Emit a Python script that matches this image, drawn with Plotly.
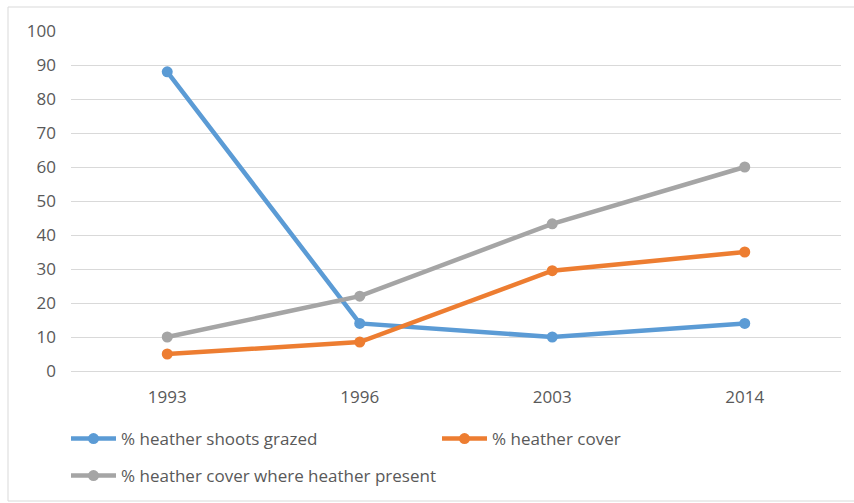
import plotly.graph_objects as go

years = ["1993", "1996", "2003", "2014"]
shoots_grazed = [88, 14, 10, 14]
heather_cover = [5, 8.5, 29.5, 35]
cover_where_present = [10, 22, 43.3, 60]

series = [
    ("% heather shoots grazed", shoots_grazed, "#5B9BD5", "legend"),
    ("% heather cover", heather_cover, "#ED7D31", "legend"),
    ("% heather cover where heather present", cover_where_present, "#A5A5A5", "legend2"),
]

W, H = 854, 503
ML, MR, MT, MB = 71, 13, 31, 132
PW, PH = W - ML - MR, H - MT - MB

fig = go.Figure()
for name, vals, color, leg in series:
    fig.add_trace(go.Scatter(
        x=years, y=vals, name=name, mode="lines+markers",
        line=dict(color=color, width=4.5),
        marker=dict(color=color, size=11),
        legend=leg,
    ))

def px_x(p):
    return (p - ML) / PW

def px_y(p):
    return (H - MB - p) / PH

# light chart-area border
fig.add_shape(type="rect", xref="paper", yref="paper",
              x0=px_x(8), x1=px_x(870), y0=px_y(501), y1=px_y(7),
              line=dict(color="#D9D9D9", width=1), fillcolor="rgba(0,0,0,0)",
              layer="below")

legend_style = dict(
    orientation="h", xanchor="left", yanchor="top",
    entrywidth=311, entrywidthmode="pixels",
    font=dict(size=17, color="#595959"),
    itemwidth=45, bgcolor="rgba(0,0,0,0)",
)

fig.update_layout(
    width=W, height=H,
    margin=dict(l=ML, r=MR, t=MT, b=MB, autoexpand=False),
    paper_bgcolor="white", plot_bgcolor="white",
    font=dict(family="Open Sans", size=17, color="#595959"),
    showlegend=True,
    legend=dict(x=px_x(66), y=px_y(421), **legend_style),
    legend2=dict(x=px_x(66), y=px_y(458), **legend_style),
    xaxis=dict(
        type="category", range=[-0.5, 3.5], showgrid=False, zeroline=False,
        showline=False, ticks="", ticklabelstandoff=14,
        tickfont=dict(size=17, color="#595959"),
    ),
    yaxis=dict(
        range=[0, 100], dtick=10, showgrid=True, gridcolor="#D9D9D9",
        gridwidth=1, zeroline=True, zerolinecolor="#D9D9D9", zerolinewidth=1,
        showline=False, ticks="", ticklabelstandoff=14,
        tickfont=dict(size=17, color="#595959"),
    ),
)

fig.write_html("out.html")
